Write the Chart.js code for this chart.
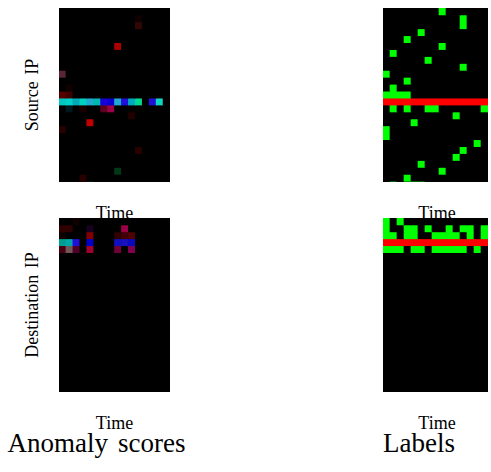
<!DOCTYPE html>
<html>
<head>
<meta charset="utf-8">
<script src="https://cdn.jsdelivr.net/npm/chart.js@4"></script>
<style>
  html, body { margin: 0; padding: 0; background: #fff; }
  body { width: 491px; height: 472px; position: relative; overflow: hidden; }
  .txt { position: absolute; font-family: 'Liberation Serif', 'DejaVu Serif', serif; color: #000; white-space: nowrap; word-spacing: 0.12em; }
  canvas { position: absolute; }
</style>
</head>
<body>
<div class="txt" id="tSrc">Source IP</div>
<div class="txt" id="tDst">Destination IP</div>
<div class="txt" id="tTime1">Time</div>
<div class="txt" id="tTime2">Time</div>
<div class="txt" id="tTime3">Time</div>
<div class="txt" id="tTime4">Time</div>
<div class="txt" id="tScores">Anomaly scores</div>
<div class="txt" id="tLabels">Labels</div>

<canvas id="srcScores" width="111" height="174" style="left:59px;top:8px"></canvas>
<canvas id="srcLabels" width="105" height="174" style="left:383px;top:8px"></canvas>
<canvas id="dstScores" width="111" height="174" style="left:59px;top:218px"></canvas>
<canvas id="dstLabels" width="105" height="174" style="left:383px;top:218px"></canvas>

<script>
// time steps and IP rows
const scoreTimes = [0, 1, 2, 3, 4, 5, 6, 7, 8, 9, 10, 11, 12, 13, 14, 15];
const labelTimes = [0, 1, 2, 3, 4, 5, 6, 7, 8, 9, 10, 11, 12, 13, 14];
const ipRows = 26;
const rowsShown = 25.1;

// anomaly scores: [time, ip, r, g, b] (three score channels, 0-255)
const srcScoreCells = [
    [11, 1, 16, 0, 0], [11, 2, 48, 6, 6], [8, 5, 170, 0, 0], [0, 9, 90, 37, 53],
    [1, 11, 16, 0, 0], [0, 12, 85, 0, 0], [1, 12, 64, 0, 0],
    [0, 13, 0, 200, 192], [1, 13, 0, 208, 200], [2, 13, 0, 168, 184], [3, 13, 0, 208, 192],
    [4, 13, 32, 168, 208], [5, 13, 0, 184, 176], [6, 13, 24, 0, 216], [7, 13, 8, 0, 208],
    [8, 13, 32, 168, 208], [9, 13, 32, 16, 216], [10, 13, 0, 168, 192], [11, 13, 0, 216, 144],
    [13, 13, 32, 16, 216], [14, 13, 16, 216, 192],
    [1, 14, 0, 24, 32], [3, 14, 24, 0, 0], [6, 14, 96, 0, 32], [7, 14, 154, 0, 69],
    [10, 15, 32, 0, 0], [4, 16, 192, 0, 0], [0, 17, 40, 0, 0], [11, 20, 40, 0, 0],
    [8, 23, 0, 56, 24], [3, 24, 40, 0, 0], [1, 25, 16, 0, 0], [4, 25, 0, 64, 32]
];
const dstScoreCells = [
    [2, 0, 16, 0, 0],
    [0, 1, 48, 0, 0], [1, 1, 48, 0, 0], [4, 1, 24, 0, 32], [9, 1, 154, 0, 69],
    [0, 2, 16, 0, 0], [4, 2, 128, 0, 0], [8, 2, 48, 0, 0], [9, 2, 64, 0, 8], [10, 2, 80, 0, 0],
    [0, 3, 0, 160, 144], [1, 3, 0, 168, 168], [2, 3, 32, 16, 216], [4, 3, 0, 0, 200],
    [8, 3, 16, 16, 192], [9, 3, 24, 16, 184], [10, 3, 8, 8, 192],
    [0, 4, 74, 0, 16], [1, 4, 112, 88, 88], [2, 4, 80, 0, 40], [4, 4, 160, 0, 48],
    [8, 4, 112, 0, 53], [10, 4, 128, 0, 80]
];

// labels: 0 normal, 1 anomalous, 2 anomalous over the whole window
const srcLabelRows = [
    '000000001000000',
    '000000000001000',
    '000000000001000',
    '000001000000000',
    '000100000000000',
    '000000001000000',
    '010000000000000',
    '000000100000000',
    '000000000001000',
    '100000000000000',
    '000100000000000',
    '010000000000000',
    '111100000000000',
    '222222222222222',
    '010100110000001',
    '000000000010000',
    '000010000000000',
    '100000000000000',
    '100000000000000',
    '000000000000010',
    '000000000001000',
    '000000000010000',
    '000001000000000',
    '000000001000000',
    '000100000000000',
    '010011000000000'
];
const dstLabelRows = [
    '101000000000000',
    '100110100101101',
    '110110011110101',
    '222222222222222',
    '111011011111010'
];

const labelColors = ['#000000', '#00ff00', '#ff0000'];

function scoreGrid(cells, nCols) {
    const grid = [];
    for (let r = 0; r < ipRows; r++) grid.push(new Array(nCols).fill('#000000'));
    cells.forEach(([t, ip, r, g, b]) => {
        grid[ip][t] = `rgb(${r},${g},${b})`;
    });
    return grid;
}

function labelGrid(rows, nCols) {
    const grid = [];
    for (let r = 0; r < ipRows; r++) {
        const row = rows[r] || '';
        const colors = [];
        for (let c = 0; c < nCols; c++) colors.push(labelColors[+(row[c] || 0)]);
        grid.push(colors);
    }
    return grid;
}

const blackBg = {
    id: 'blackBg',
    beforeDraw(chart) {
        const { ctx, chartArea: a } = chart;
        ctx.save();
        ctx.fillStyle = '#000';
        ctx.fillRect(a.left, a.top, a.right - a.left, a.bottom - a.top);
        ctx.restore();
    }
};

function heatmap(id, times, grid) {
    const datasets = grid.map((rowColors, r) => ({
        data: rowColors.map(() => [r, r + 1]),
        backgroundColor: rowColors,
        borderWidth: 0
    }));
    new Chart(document.getElementById(id), {
        type: 'bar',
        data: { labels: times, datasets },
        options: {
            responsive: false,
            animation: false,
            devicePixelRatio: 1,
            layout: { padding: 0 },
            datasets: { bar: { grouped: false, barPercentage: 1, categoryPercentage: 1 } },
            scales: {
                x: { display: false },
                y: { display: false, min: 0, max: rowsShown, reverse: true }
            },
            plugins: { legend: { display: false }, tooltip: { enabled: false } }
        },
        plugins: [blackBg]
    });
}

heatmap('srcScores', scoreTimes, scoreGrid(srcScoreCells, scoreTimes.length));
heatmap('dstScores', scoreTimes, scoreGrid(dstScoreCells, scoreTimes.length));
heatmap('srcLabels', labelTimes, labelGrid(srcLabelRows, labelTimes.length));
heatmap('dstLabels', labelTimes, labelGrid(dstLabelRows, labelTimes.length));

// text placement: centre x, baseline y
function place(id, x, baseline, size, rotate) {
    const el = document.getElementById(id);
    el.style.fontSize = size + 'px';
    el.style.lineHeight = size + 'px';
    if (rotate) {
        el.style.left = x + 'px';
        el.style.top = baseline + 'px';
        el.style.transform = 'translate(-50%, -50%) rotate(-90deg)';
    } else {
        el.style.left = x + 'px';
        el.style.top = (baseline - 0.3375 * size) + 'px';
        el.style.transform = 'translate(-50%, -50%)';
    }
}
place('tSrc', 32, 95, 18, true);
place('tDst', 32, 305, 18, true);
place('tTime1', 114.5, 219, 18);
place('tTime2', 437, 219, 18);
place('tTime3', 114.5, 429, 18);
place('tTime4', 437, 429, 18);
place('tScores', 96.5, 452, 27);
place('tLabels', 419, 452, 27);
</script>
</body>
</html>
